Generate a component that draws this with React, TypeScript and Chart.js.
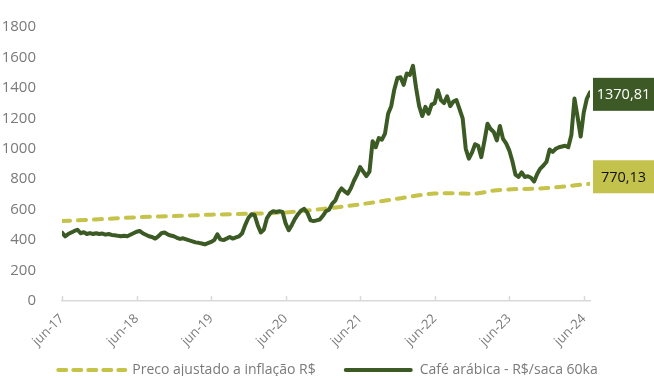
import React, { useEffect, useRef } from 'react';
import { Chart, registerables } from 'chart.js';

Chart.register(...registerables);

// ---- data ----
const xTickLabels = ['jun-17', 'jun-18', 'jun-19', 'jun-20', 'jun-21', 'jun-22', 'jun-23', 'jun-24'];
const xTickMonths = [0, 12, 24, 36, 48, 60, 72, 84];
const xMaxMonth = 85;

const seriesNames = ['Preco ajustado a inflação R$', 'Café arábica - R$/saca 60ka'];

// Café arábica, one value every half month from jun-17
const coffeeStepMonths = 0.5;
const coffeePrice = [
  450, 425, 440, 450, 460, 468, 445, 452, 440, 446, 440, 445, 440, 443, 436, 440, 434, 432, 428, 425, 428, 425, 435, 445,
  455, 460, 445, 435, 425, 420, 410, 425, 445, 450, 438, 430, 425, 415, 408, 412, 405, 398, 392, 385, 382, 378, 372, 380,
  388, 400, 438, 405, 400, 410, 420, 410, 418, 425, 445, 500, 545, 570, 565, 500, 450, 470, 545, 575, 590, 585, 590, 585,
  510, 465, 500, 540, 570, 595, 605, 580, 530, 525, 530, 535, 560, 590, 600, 640, 660, 710, 740, 720, 705, 740, 790, 830,
  880, 850, 820, 850, 1050, 1010, 1070, 1060, 1100, 1230, 1280, 1390, 1465, 1470, 1420, 1495, 1485, 1545, 1400, 1280, 1215, 1275, 1230, 1290,
  1300, 1385, 1320, 1300, 1345, 1280, 1310, 1320, 1260, 1200, 1000, 935, 975, 1030, 1020, 945, 1050, 1165, 1130, 1110, 1055, 1150, 1065, 1035,
  990, 920, 830, 815, 845, 815, 820, 810, 785, 835, 870, 890, 915, 995, 980, 1000, 1010, 1015, 1020, 1010, 1090, 1330, 1210, 1080,
  1240, 1330, 1370.81,
];

// Preço ajustado à inflação
const inflationMonths = [0, 6, 12, 18, 24, 30, 36, 42, 48, 54, 60, 63, 66, 70, 78, 85];
const inflationPrice = [525, 537, 550, 558, 567, 573, 582, 605, 635, 672, 706, 708, 705, 728, 742, 770.13];

const yMin = 0;
const yMax = 1800;
const yStep = 200;

// ---- style ----
const FONT = "'Open Sans', 'DejaVu Sans', sans-serif";
const DARK = '#3b5a24';
const LIGHT = '#c5c34a';
const DARK_BOX = '#3d5a26';
const LIGHT_BOX = '#c3c24c';
const GRAY = '#7a7a7a';
const AXIS = '#d9d9d9';

const fmt = (v: number) => v.toFixed(2).replace('.', ',');

const upTicksPlugin = {
  id: 'upTicks',
  afterDatasetsDraw(chart: any) {
    const sx = chart.scales.x;
    const bottom = chart.chartArea.bottom;
    const ctx = chart.ctx;
    ctx.save();
    ctx.strokeStyle = AXIS;
    ctx.lineWidth = 1.5;
    xTickMonths.forEach((m) => {
      const x = Math.round(sx.getPixelForValue(m)) + 0.5;
      ctx.beginPath();
      ctx.moveTo(x, bottom - 5);
      ctx.lineTo(x, bottom);
      ctx.stroke();
    });
    ctx.restore();
  },
};

const endLabelsPlugin = {
  id: 'endLabels',
  afterDatasetsDraw(chart: any) {
    const ctx = chart.ctx;
    const items = [
      { ds: 1, bg: DARK_BOX, fg: '#ffffff', dy: 2, text: fmt(coffeePrice[coffeePrice.length - 1]) },
      { ds: 0, bg: LIGHT_BOX, fg: '#111111', dy: -7, text: fmt(inflationPrice[inflationPrice.length - 1]) },
    ];
    ctx.save();
    items.forEach((it) => {
      const meta = chart.getDatasetMeta(it.ds);
      const pt = meta.data[meta.data.length - 1];
      const cy = pt.y + it.dy;
      const h = 33;
      const x0 = 593;
      const w = chart.width - x0;
      ctx.fillStyle = it.bg;
      ctx.fillRect(x0, cy - h / 2, w, h);
      ctx.fillStyle = it.fg;
      ctx.font = `14.5px ${FONT}`;
      ctx.textAlign = 'center';
      ctx.textBaseline = 'middle';
      ctx.fillText(it.text, x0 + w / 2, cy + 1);
    });
    ctx.restore();
  },
};

const legendPlugin = {
  id: 'customLegend',
  afterDraw(chart: any) {
    const ctx = chart.ctx;
    ctx.save();
    ctx.font = `14px ${FONT}`;
    const sample = 69;
    const gap = 7;
    const between = 28;
    const w1 = ctx.measureText(seriesNames[0]).width;
    const w2 = ctx.measureText(seriesNames[1]).width;
    const total = sample + gap + w1 + between + sample + gap + w2;
    let x = 327 - total / 2;
    const y = 370;
    // dashed sample
    ctx.strokeStyle = LIGHT;
    ctx.lineWidth = 4;
    ctx.lineCap = 'round';
    ctx.setLineDash([8, 7]);
    ctx.beginPath();
    ctx.moveTo(x + 2, y);
    ctx.lineTo(x + sample, y);
    ctx.stroke();
    ctx.setLineDash([]);
    x += sample + gap;
    ctx.fillStyle = GRAY;
    ctx.textAlign = 'left';
    ctx.textBaseline = 'middle';
    ctx.fillText(seriesNames[0], x, y);
    x += w1 + between;
    // solid sample
    ctx.strokeStyle = DARK;
    ctx.lineWidth = 4;
    ctx.beginPath();
    ctx.moveTo(x + 2, y);
    ctx.lineTo(x + sample - 2, y);
    ctx.stroke();
    x += sample + gap;
    ctx.fillText(seriesNames[1], x, y);
    ctx.restore();
  },
};

export default function App() {
  const ref = useRef<HTMLCanvasElement | null>(null);

  useEffect(() => {
    if (!ref.current) return;
    const chart = new Chart(ref.current, {
      type: 'line',
      data: {
        datasets: [
          {
            label: seriesNames[0],
            data: inflationMonths.map((m, i) => ({ x: m, y: inflationPrice[i] })),
            borderColor: LIGHT,
            backgroundColor: LIGHT,
            borderWidth: 4,
            borderDash: [8, 8],
            borderCapStyle: 'round',
            pointRadius: 0,
            cubicInterpolationMode: 'monotone',
            order: 1,
          },
          {
            label: seriesNames[1],
            data: coffeePrice.map((v, i) => ({ x: i * coffeeStepMonths, y: v })),
            borderColor: DARK,
            backgroundColor: DARK,
            borderWidth: 4,
            borderJoinStyle: 'round',
            borderCapStyle: 'round',
            pointRadius: 0,
            tension: 0,
            order: 0,
          },
        ],
      },
      options: {
        responsive: false,
        animation: false,
        layout: { padding: { left: 0, right: 64, top: 22, bottom: 0 } },
        plugins: {
          legend: { display: false },
          tooltip: { enabled: false },
        },
        scales: {
          x: {
            type: 'linear',
            min: 0,
            max: xMaxMonth,
            afterBuildTicks: (scale: any) => {
              scale.ticks = xTickMonths.map((v) => ({ value: v }));
            },
            afterFit: (scale: any) => {
              scale.height = 75;
            },
            grid: { display: false, drawTicks: false },
            border: { display: true, color: AXIS, width: 1.5 },
            ticks: {
              autoSkip: false,
              minRotation: 45,
              maxRotation: 45,
              padding: 10,
              color: GRAY,
              font: { family: FONT, size: 13 },
              callback: (_v: any, i: number) => xTickLabels[i],
            },
          },
          y: {
            min: yMin,
            max: yMax,
            afterFit: (scale: any) => {
              scale.width = 62;
            },
            grid: { display: false },
            border: { display: false },
            ticks: {
              stepSize: yStep,
              padding: 18,
              color: GRAY,
              font: { family: FONT, size: 15 },
              callback: (v: any) => String(v),
            },
          },
        },
      },
      plugins: [upTicksPlugin, endLabelsPlugin, legendPlugin],
    } as any);
    return () => chart.destroy();
  }, []);

  return (
    <div style={{ position: 'absolute', left: 0, top: 0, width: 654, height: 376, background: '#ffffff' }}>
      <canvas ref={ref} width={654} height={376} style={{ display: 'block' }} />
    </div>
  );
}
